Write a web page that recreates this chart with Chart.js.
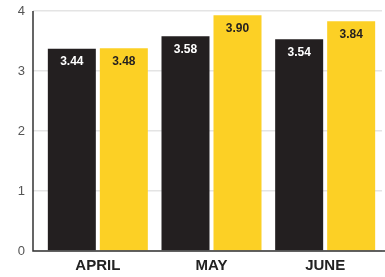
<!DOCTYPE html>
<html>
<head>
<meta charset="utf-8">
<script src="https://cdn.jsdelivr.net/npm/chart.js@4/dist/chart.umd.min.js"></script>
<style>
  html, body { margin: 0; padding: 0; background: #fff; }
  #wrap { width: 385px; height: 277px; }
</style>
</head>
<body>
<div id="wrap"><canvas id="chart"></canvas></div>
<script>
// dados
const months = ['APRIL', 'MAY', 'JUNE'];
const blackValues = [3.37, 3.58, 3.53];
const yellowValues = [3.38, 3.93, 3.83];
const blackLabels = ['3.44', '3.58', '3.54'];
const yellowLabels = ['3.48', '3.90', '3.84'];
const yTicks = [0, 1, 2, 3, 4];

const BLACK = '#231f20';
const YELLOW = '#fcd025';

// rótulos dentro das barras + eixos
const barLabels = {
  id: 'barLabels',
  afterDatasetsDraw(chart) {
    const ctx = chart.ctx;
    ctx.save();
    ctx.font = 'bold 12px "Liberation Sans", Arial, sans-serif';
    ctx.textAlign = 'center';
    ctx.textBaseline = 'middle';
    chart.data.datasets.forEach((ds, di) => {
      const meta = chart.getDatasetMeta(di);
      meta.data.forEach((bar, i) => {
        ctx.fillStyle = di === 0 ? '#ffffff' : BLACK;
        ctx.fillText(ds.valueLabels[i], bar.x, bar.y + 13);
      });
    });
    ctx.restore();
  },
  afterDraw(chart) {
    const ctx = chart.ctx;
    const a = chart.chartArea;
    const x0 = a.left - 8;
    ctx.save();
    ctx.strokeStyle = '#333';
    ctx.lineWidth = 1.5;
    ctx.beginPath();
    ctx.moveTo(x0, a.top);
    ctx.lineTo(x0, a.bottom);
    ctx.lineTo(chart.width, a.bottom);
    ctx.stroke();
    ctx.restore();
  }
};

const ctx = document.getElementById('chart').getContext('2d');
new Chart(ctx, {
  type: 'bar',
  data: {
    labels: months,
    datasets: [
      { data: blackValues, valueLabels: blackLabels, backgroundColor: BLACK },
      { data: yellowValues, valueLabels: yellowLabels, backgroundColor: YELLOW }
    ]
  },
  options: {
    responsive: true,
    maintainAspectRatio: false,
    animation: false,
    categoryPercentage: 0.915,
    barPercentage: 0.923,
    layout: { padding: { top: 11, right: 3, left: 0, bottom: 0 } },
    plugins: { legend: { display: false }, tooltip: { enabled: false } },
    scales: {
      x: {
        grid: { display: false },
        border: { display: false },
        ticks: {
          color: '#222',
          padding: -2,
          font: { family: '"Liberation Sans", Arial, sans-serif', size: 15, weight: 'bold' }
        },
        afterFit(scale) { scale.height = 26; }
      },
      y: {
        min: 0,
        max: 4,
        afterBuildTicks(scale) { scale.ticks = yTicks.map(v => ({ value: v })); },
        grid: { color: '#e4e4e4', lineWidth: 1.5, tickLength: 8 },
        border: { display: false },
        ticks: {
          color: '#555',
          padding: 8,
          font: { family: '"Liberation Sans", Arial, sans-serif', size: 13 }
        },
        afterFit(scale) {
          scale.width = 41;
          scale.paddingTop = 0;
          scale.paddingBottom = 0;
        }
      }
    }
  },
  plugins: [barLabels]
});
</script>
</body>
</html>
